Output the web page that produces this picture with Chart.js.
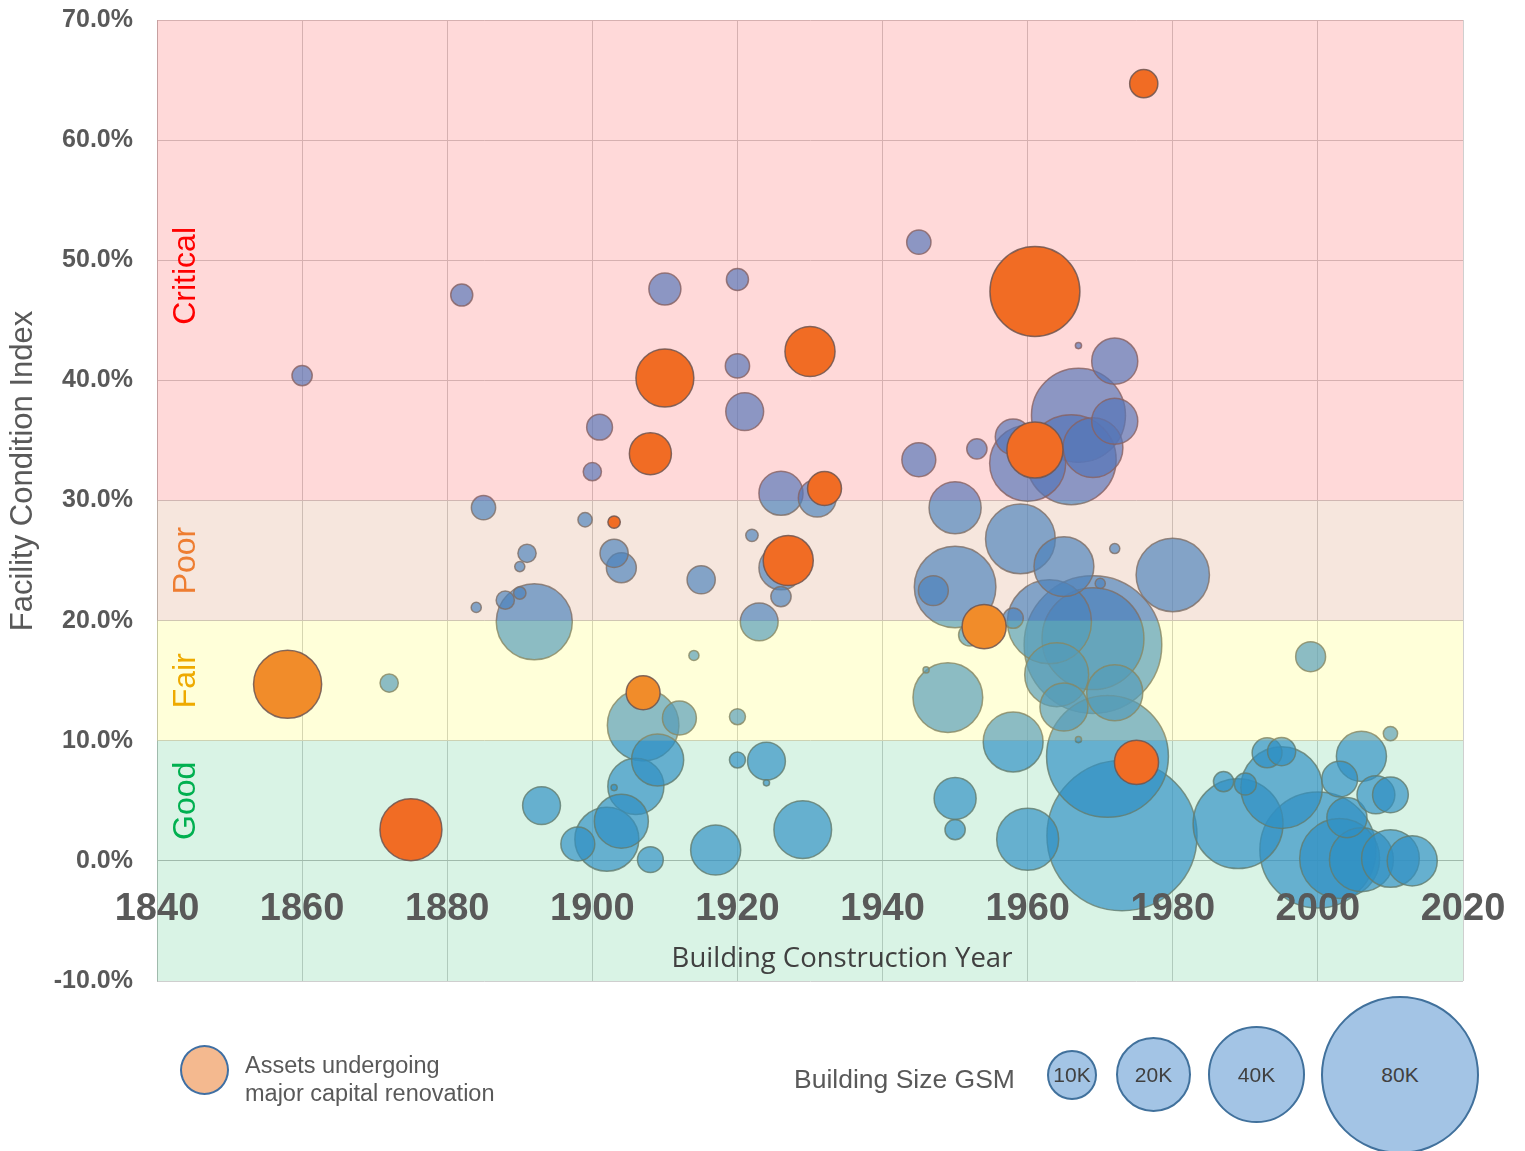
<!DOCTYPE html>
<html>
<head>
<meta charset="utf-8">
<title>Facility Condition Index</title>
<script src="https://cdn.jsdelivr.net/npm/chart.js@4.4.1/dist/chart.umd.min.js"></script>
<style>
body{margin:0;background:#fff;font-family:"Liberation Sans",Arial,sans-serif;}
#wrap{position:relative;width:1525px;height:1151px;overflow:hidden;}
#chart{position:absolute;left:0;top:0;}
.lg{position:absolute;color:#595959;}
.reno{left:180px;top:1045px;width:45px;height:46px;border:2.5px solid #3f6fa3;border-radius:50%;background:#f4b98f;}
.renoText{left:245px;top:1051px;font-size:23.5px;line-height:28px;}
.sizeTitle{left:794px;top:1064px;font-size:26.5px;}
.size{position:absolute;border:2.5px solid #41719c;border-radius:50%;background:#a3c4e5;color:#404040;
  display:flex;align-items:center;justify-content:center;font-size:21px;box-sizing:border-box;}
</style>
</head>
<body>
<div id="wrap">
<canvas id="chart" width="1525" height="1151"></canvas>

<div class="lg reno"></div>
<div class="lg renoText">Assets undergoing<br>major capital renovation</div>
<div class="lg sizeTitle">Building Size GSM</div>
<div class="size" style="left:1047px;top:1050px;width:50px;height:50px;">10K</div>
<div class="size" style="left:1116px;top:1037px;width:75px;height:75px;">20K</div>
<div class="size" style="left:1208px;top:1026px;width:97px;height:97px;">40K</div>
<div class="size" style="left:1321px;top:996px;width:158px;height:158px;">80K</div>
</div>

<script>
// assets undergoing major capital renovation (orange)
const renoYear = [1976,1961,1930,1910,1908,1961,1932,1903,1927,1954,1858,1907,1975,1875];
const renoFci  = [64.7,47.4,42.4,40.2,33.9,34.2,31.0,28.2,25.0,19.5,14.7,14.0,8.2,2.6];
const renoGsm  = [3.1,31.6,9.8,13.1,6.9,12.3,4.5,0.6,9.8,7.6,18.1,4.5,7.6,15];

// all other buildings (blue), GSM in thousands
const assetYear = [1860,1882,1910,1920,1945,1920,1921,1901,1900,1945,1953,1972,1967,1967,1972,1966,1960,1958,1969,
  1926,1931,1950,1885,1899,1891,1890,1888,1890,1884,1892,1903,1904,1915,1922,1923,1926,1926,1959,1950,1947,1965,
  1980,1972,1970,1969,1969,1963,1965,1964,1972,1958,1952,1872,1949,1946,1907,1912,1914,1920,1999,2010,1958,1950,
  1950,1960,1971,1973,1989,1987,1990,1995,1993,1995,2006,2003,2004,2008,2010,2000,2003,2006,2010,2013,1893,1898,
  1902,1904,1906,1909,1908,1917,1929,1920,1924,1924,1903,1967];
const assetFci = [40.4,47.1,47.6,48.4,51.5,41.2,37.4,36.1,32.4,33.4,34.3,41.6,42.9,37.1,36.6,33.4,33.1,35.3,34.4,
  30.6,30.2,29.4,29.4,28.4,25.6,24.5,21.7,22.3,21.1,19.9,25.6,24.4,23.4,27.1,19.9,22.0,24.4,26.8,22.8,22.5,24.5,
  23.8,26.0,23.1,18.0,18.5,19.9,12.8,15.5,14.0,20.2,18.8,14.8,13.6,15.9,11.3,11.9,17.1,12.0,17.0,10.6,9.9,5.2,
  2.6,1.8,8.7,2.1,3.1,6.6,6.4,6.1,9.0,9.1,8.7,6.8,3.6,5.5,5.5,0.9,0.2,0.1,0.2,0.0,4.6,1.4,
  1.8,3.3,6.2,8.4,0.1,0.9,2.6,8.4,8.3,6.5,6.1,10.1];
const assetGsm = [1.6,1.9,4,1.9,2.3,2.3,5.6,2.6,1.3,4.5,1.6,8.3,0.15,34.5,8.3,31.6,22.6,5,14,
  7.6,5.6,10.6,2.3,0.8,1.3,0.4,1.3,0.6,0.4,22.6,3.1,3.5,3.1,0.6,5.6,1.6,7.6,19,26,3.5,14,
  21,0.4,0.4,74,40.6,27.6,9,16,12.3,1.6,1.9,1.3,19,0.15,20,4.5,0.4,1,3.5,0.8,14,6.9,
  1.6,15,58,88,31.6,1.6,1.9,26,3.5,3.1,9.8,5,6.3,5.6,5,52.6,25,16,13,9.8,5.6,4.5,
  16,11.4,12.3,10.6,2.6,9.8,13,1,5.6,0.15,0.15,0.15];

const yearTicks = [1840,1860,1880,1900,1920,1940,1960,1980,2000,2020];
const fciTicks = [-10,0,10,20,30,40,50,60,70];

// condition bands
const bandNames = ["Good","Fair","Poor","Critical"];
const bandEdges = [-10,10,20,30,70];
const bandLabelAt = [5,15,25,48.7];
const bandTint = ["rgba(0,176,80,0.15)","rgba(255,255,0,0.15)","rgba(195,88,28,0.15)","rgba(255,0,0,0.15)"];
const bandText = ["#00b050","#eeaa00","#ee7d31","#ff0000"];

const PX_PER_SQRT_K = 8;
function toPoints(xs, ys, sizes){
  return xs.map((x,i) => ({x:x, y:ys[i], r:PX_PER_SQRT_K*Math.sqrt(sizes[i])}))
    .sort((a,b) => b.r - a.r);
}

const bandPlugin = {
  id:"bands",
  // tint the bands over the blue bubbles, under the orange ones
  afterDatasetDraw(chart, args){
    if(args.index !== 1) return;
    const {ctx, chartArea:a, scales:{y}} = chart;
    ctx.save();
    for(let i=0;i<bandNames.length;i++){
      const top = y.getPixelForValue(bandEdges[i+1]);
      const bot = y.getPixelForValue(bandEdges[i]);
      ctx.fillStyle = bandTint[i];
      ctx.fillRect(a.left, top, a.right-a.left, bot-top);
    }
    ctx.restore();
  },
  afterDatasetsDraw(chart){
    const {ctx, scales:{y}} = chart;
    ctx.save();
    ctx.font = '32px "Liberation Sans", Arial, sans-serif';
    ctx.textAlign = "center";
    ctx.textBaseline = "middle";
    for(let i=0;i<bandNames.length;i++){
      ctx.save();
      ctx.translate(186, y.getPixelForValue(bandLabelAt[i]));
      ctx.rotate(-Math.PI/2);
      ctx.fillStyle = bandText[i];
      ctx.fillText(bandNames[i], 0, 0);
      ctx.restore();
    }
    ctx.font = '27.5px "Open Sans", sans-serif';
    ctx.fillStyle = "#404040";
    ctx.fillText("Building Construction Year", 842, 959);
    ctx.translate(23, 471);
    ctx.rotate(-Math.PI/2);
    ctx.font = '31px "Liberation Sans", Arial, sans-serif';
    ctx.fillStyle = "#595959";
    ctx.fillText("Facility Condition Index", 0, 0);
    ctx.restore();
  }
};

new Chart(document.getElementById("chart"),{
  type:"bubble",
  data:{
    datasets:[
      {
        label:"Assets undergoing major capital renovation",
        data:toPoints(renoYear, renoFci, renoGsm),
        backgroundColor:c => (c.raw && c.raw.y >= 10 && c.raw.y < 20) ? "#f18c2a" : "#f16c24",
        borderColor:"rgba(110,85,80,0.85)",
        borderWidth:1.5
      },
      {
        label:"Buildings",
        data:toPoints(assetYear, assetFci, assetGsm),
        backgroundColor:"rgba(56,139,217,0.68)",
        borderColor:"rgba(115,115,115,0.8)",
        borderWidth:1.5
      }
    ]
  },
  options:{
    responsive:false,
    animation:false,
    events:[],
    layout:{autoPadding:false,padding:{top:20,right:62,bottom:170,left:0}},
    plugins:{legend:{display:false},tooltip:{enabled:false}},
    scales:{
      x:{
        type:"linear",
        position:{y:0},
        min:1840,max:2020,
        afterBuildTicks:s => { s.ticks = yearTicks.map(v => ({value:v})); },
        afterFit:s => { s.paddingLeft = 0; s.paddingRight = 0; },
        grid:{color:"#cfcfcf",drawTicks:false},
        border:{color:"#bdbdbd"},
        ticks:{
          z:1,
          padding:26,
          color:"#595959",
          font:{family:'"Liberation Sans", Arial, sans-serif',size:38,weight:"bold"},
          callback:v => String(v)
        }
      },
      y:{
        min:-10,max:70,
        afterBuildTicks:s => { s.ticks = fciTicks.map(v => ({value:v})); },
        afterFit:s => { s.width = 157; s.paddingTop = 0; s.paddingBottom = 0; },
        grid:{color:"#cfcfcf",drawTicks:false},
        border:{color:"#bdbdbd"},
        ticks:{
          padding:24,
          color:"#595959",
          font:{family:'"Liberation Sans", Arial, sans-serif',size:25,weight:"bold"},
          callback:v => v.toFixed(1) + "%"
        }
      }
    }
  },
  plugins:[bandPlugin]
});
</script>
</body>
</html>
